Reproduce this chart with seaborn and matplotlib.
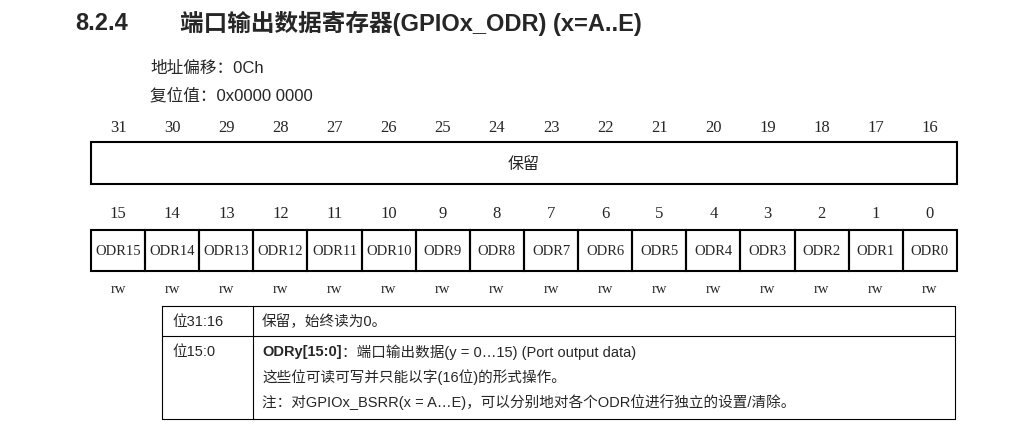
import matplotlib
matplotlib.use("Agg")
import matplotlib.pyplot as plt
from matplotlib.patches import Rectangle
import seaborn as sns

section = "8.2.4"
title = "端口输出数据寄存器(GPIOx_ODR) (x=A..E)"
info_lines = ["地址偏移：0Ch", "复位值：0x0000 0000"]
high_bits = list(range(31, 15, -1))
low_bits = list(range(15, -1, -1))
high_field = "保留"
low_fields = [f"ODR{b}" for b in low_bits]
access = ["rw"] * 16
table_rows = [
    ("位31:16", ["保留，始终读为0。"]),
    ("位15:0", ["ODRy[15:0]：端口输出数据(y = 0…15) (Port output data)",
               "这些位可读可写并只能以字(16位)的形式操作。",
               "注：对GPIOx_BSRR(x = A…E)，可以分别地对各个ODR位进行独立的设置/清除。"]),
]

sns.set_theme(style="white")
SANS = ["Liberation Sans", "Noto Sans CJK SC", "DejaVu Sans"]
SERIF = ["Liberation Serif", "Noto Sans CJK SC", "DejaVu Serif"]
plt.rcParams["font.family"] = SANS

fig = plt.figure(figsize=(10.21, 4.27), dpi=100)
ax = fig.add_axes([0, 0, 1, 1])
ax.set_xlim(0, 1021)
ax.set_ylim(427, 0)
ax.axis("off")

ax.text(75, 23, section, fontsize=17, fontweight="bold", va="center", family=SANS)
ax.text(180, 23, title, fontsize=17, fontweight="bold", va="center", family=SANS)
for i, l in enumerate(info_lines):
    ax.text(150, 68 + 28 * i, l, fontsize=12, va="center", family=SANS)

x0, w = 91, 54.12
ax.add_patch(Rectangle((x0, 143), 16 * w, 42, fill=False, lw=1.5, ec="black"))
ax.text(x0 + 8 * w, 165, high_field, fontsize=11.5, ha="center", va="center")
for i, b in enumerate(high_bits):
    ax.text(x0 + (i + 0.5) * w, 128, str(b), fontsize=12, ha="center", va="center", family=SERIF)
for i, (b, f, a) in enumerate(zip(low_bits, low_fields, access)):
    cx = x0 + (i + 0.5) * w
    ax.text(cx, 214, str(b), fontsize=12, ha="center", va="center", family=SERIF)
    ax.add_patch(Rectangle((x0 + i * w, 231), w, 41, fill=False, lw=1.5, ec="black"))
    ax.text(cx, 252, f, fontsize=10.5, ha="center", va="center", family=SERIF)
    ax.text(cx, 290, a, fontsize=10.5, ha="center", va="center", family=SERIF)

tx0, tx1, tc = 162, 955, 253
ys = [307, 337, 420]
for y in ys:
    ax.plot([tx0, tx1], [y, y], color="black", lw=0.8)
for x in (tx0, tc, tx1):
    ax.plot([x, x], [ys[0], ys[-1]], color="black", lw=0.8)
for r, (label, lines) in enumerate(table_rows):
    ytop = ys[r] + 15
    ax.text(172, ytop, label, fontsize=10.5, va="center")
    for j, l in enumerate(lines):
        if j == 0 and l.startswith("ODRy"):
            t = ax.text(262, ytop, "ODRy[15:0]", fontsize=10.5, va="center", fontweight="bold")
            ax.annotate(l[len("ODRy[15:0]"):], xycoords=t, xy=(1, 0.5), va="center", fontsize=10.5)
        else:
            ax.text(262, ytop + 25 * j, l, fontsize=10.5, va="center")

fig.savefig("out.png", dpi=100, facecolor="white")
